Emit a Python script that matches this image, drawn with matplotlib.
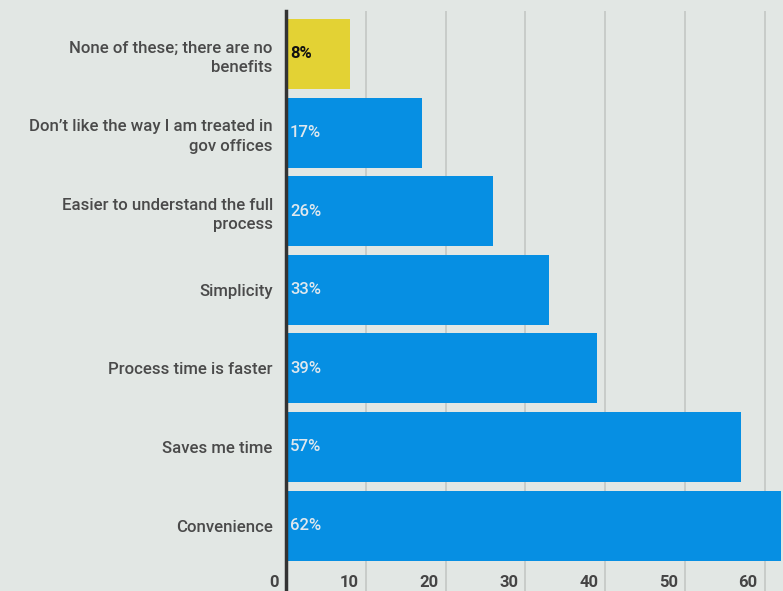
import matplotlib.pyplot as plt
import matplotlib.transforms as mtransforms

categories = [
    "None of these; there are no\nbenefits",
    "Don\u2019t like the way I am treated in\ngov offices",
    "Easier to understand the full\nprocess",
    "Simplicity",
    "Process time is faster",
    "Saves me time",
    "Convenience",
]
values = [8, 17, 26, 33, 39, 57, 62]
colors = ["#e3d234"] + ["#068fe3"] * 6
xticks = [0, 10, 20, 30, 40, 50, 60]

bg = "#e2e7e4"
plt.rcParams["font.family"] = ["Roboto", "DejaVu Sans"]

fig = plt.figure(figsize=(7.83, 5.91), dpi=100, facecolor=bg)
ax = fig.add_axes([286 / 783, 0, 497 / 783, 580 / 591])
ax.set_facecolor(bg)

pos = list(range(len(categories)))
ax.barh(pos, values, height=0.89, color=colors, zorder=2)
ax.set_xlim(0, 62.3)
ax.set_ylim(6.833, -0.547)

# vertical gridlines
for v in xticks[1:]:
    ax.axvline(v, color="#c6cac7", lw=1.3, zorder=1)
for s in ["top", "right", "bottom"]:
    ax.spines[s].set_visible(False)
ax.spines["left"].set_color("#333333")
ax.spines["left"].set_linewidth(2.5)
ax.spines["left"].set_zorder(3)

ax.set_xticks([])
ax.set_yticks(pos)
ax.set_yticklabels(categories, fontsize=12.1, color="#4a4a4a", fontweight="medium",
                   linespacing=1.4)
ax.tick_params(axis="y", length=0, pad=9.5)

# x tick labels drawn inside the plot at the bottom
trans = mtransforms.blended_transform_factory(ax.transData, ax.transAxes)
for v in xticks:
    ax.annotate(str(v), xy=(v, 0), xycoords=trans, xytext=(-5, 0.5),
                textcoords="offset points", ha="right", va="bottom",
                fontsize=12, fontweight="bold", color="#444444", zorder=4)

# value labels inside bars
for i, v in enumerate(values):
    if i == 0:
        ax.text(0.5, i, f"{v}%", va="center", ha="left", fontsize=12,
                fontweight="bold", color="#111111", zorder=4)
    else:
        ax.text(0.5, i, f"{v}%", va="center", ha="left", fontsize=12,
                fontweight="medium", color="#dfe8ee", zorder=4)

fig.savefig("out.png", dpi=100, facecolor=bg)
